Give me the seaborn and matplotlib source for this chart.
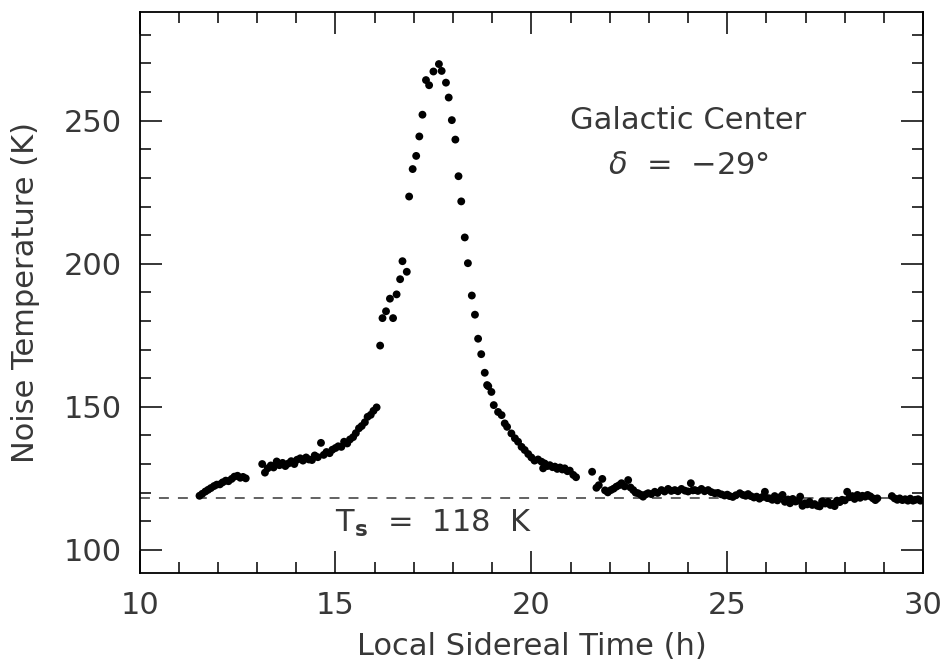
import numpy as np
import pandas as pd
import matplotlib
matplotlib.use("Agg")
import matplotlib.pyplot as plt
import seaborn as sns
from matplotlib.ticker import MultipleLocator

# drift scan through the galactic center
# slow rise before the source
rise_t = [11.53, 11.60, 11.68, 11.75, 11.82, 11.90, 11.97, 12.05, 12.12, 12.20,
          12.27, 12.35, 12.42, 12.50, 12.57, 12.64, 12.71,
          13.13, 13.20, 13.27, 13.35, 13.42, 13.50, 13.57, 13.65, 13.72, 13.80,
          13.87, 13.95, 14.02, 14.10, 14.17, 14.25, 14.32, 14.40, 14.47, 14.55,
          14.63, 14.70, 14.77, 14.85, 14.92, 15.00, 15.07, 15.15, 15.22, 15.30,
          15.37, 15.45, 15.52, 15.60, 15.67, 15.75, 15.82, 15.90, 15.97, 16.05]
rise_T = [118.9, 119.6, 120.4, 121.0, 121.6, 122.3, 122.8, 122.9, 123.6, 124.2,
          124.0, 124.8, 125.6, 125.9, 125.2, 125.5, 125.0,
          130.0, 127.0, 128.5, 129.5, 128.8, 130.9, 129.6, 130.4, 129.3, 130.2,
          131.0, 130.0, 131.5, 132.0, 131.2, 132.3, 131.6, 131.4, 133.0, 132.4,
          137.4, 133.2, 134.2, 133.8, 135.0, 135.6, 136.2, 136.0, 137.8, 137.2,
          138.6, 139.4, 140.8, 142.5, 143.3, 144.6, 146.5, 147.2, 148.6, 149.8]

# the source itself
peak_t = [16.14, 16.20, 16.29, 16.39, 16.47, 16.56, 16.65, 16.71, 16.82, 16.88,
          16.97, 17.06, 17.14, 17.22, 17.31, 17.39, 17.50, 17.64, 17.71, 17.82,
          17.89, 17.97, 18.06, 18.14, 18.21, 18.30, 18.38, 18.48, 18.56, 18.64,
          18.72, 18.81, 18.87]
peak_T = [171.4, 181.0, 183.4, 187.8, 181.0, 189.3, 194.6, 200.9, 197.2, 223.5,
          233.1, 237.7, 244.5, 252.1, 264.2, 262.4, 267.2, 269.8, 267.4, 263.3,
          258.1, 250.2, 243.4, 230.6, 221.8, 209.2, 200.2, 188.9, 182.2, 173.8,
          168.4, 161.9, 157.6]

# decay after transit
fall_t = [18.90, 18.98, 19.04, 19.15, 19.24, 19.32, 19.38, 19.49, 19.58, 19.66,
          19.75, 19.83, 19.92, 20.00, 20.08, 20.17, 20.26, 20.30, 20.34, 20.41,
          20.47, 20.54, 20.60, 20.66, 20.73, 20.79, 20.85, 20.92, 20.98, 21.07,
          21.14]
fall_T = [157.2, 155.2, 150.6, 148.2, 147.1, 144.2, 143.0, 140.7, 139.0, 137.8,
          136.0, 134.9, 133.5, 132.3, 131.2, 131.6, 130.8, 128.5, 130.2, 129.3,
          129.6, 128.9, 129.1, 128.3, 128.8, 128.1, 128.5, 127.5, 127.7, 126.2,
          125.4]

# cold sky afterwards
tail_t = [21.55, 21.66, 21.72, 21.81, 21.88, 21.95, 22.03, 22.10, 22.17, 22.24,
          22.30, 22.38, 22.47, 22.53, 22.60, 22.66, 22.72, 22.79, 22.85, 22.92,
          22.98, 23.06, 23.15, 23.22, 23.32, 23.40, 23.49, 23.57, 23.66, 23.74,
          23.83, 23.92, 24.00, 24.07, 24.12, 24.17, 24.25, 24.34, 24.42, 24.51,
          24.59, 24.68, 24.76, 24.85, 24.93, 25.00, 25.06, 25.14, 25.22, 25.32,
          25.40, 25.47, 25.53, 25.60, 25.68, 25.75, 25.82, 25.90, 25.96, 26.02,
          26.08, 26.15, 26.21, 26.28, 26.34, 26.41, 26.47, 26.55, 26.60, 26.67,
          26.74, 26.81, 26.86, 26.92, 26.98, 27.04, 27.10, 27.17, 27.23, 27.30,
          27.36, 27.42, 27.50, 27.57, 27.63, 27.70, 27.74, 27.80, 27.87, 27.93,
          28.00, 28.06, 28.12, 28.19, 28.25, 28.32, 28.39, 28.45, 28.52, 28.58,
          28.65, 28.72, 28.78, 28.83,
          29.20, 29.27, 29.34, 29.40, 29.47, 29.54, 29.61, 29.67, 29.74, 29.80,
          29.87, 29.93]
tail_T = [127.3, 121.7, 122.6, 124.8, 120.8, 120.1, 120.9, 121.4, 122.1, 122.6,
          123.3, 122.2, 124.4, 121.8, 120.9, 120.0, 119.8, 119.3, 118.6, 119.4,
          119.8, 119.5, 120.3, 119.9, 120.9, 120.4, 121.3, 120.6, 120.9, 120.5,
          121.3, 120.7, 120.4, 123.3, 120.8, 120.9, 120.6, 121.3, 120.5, 120.9,
          120.2, 119.8, 119.9, 119.4, 119.0, 119.3, 118.8, 118.5, 119.1, 119.8,
          119.2, 118.9, 119.5, 118.8, 118.3, 118.6, 117.9, 118.5, 120.3, 118.1,
          118.0, 117.5, 118.8, 117.3, 118.4, 119.2, 116.8, 117.6, 116.3, 117.8,
          116.9, 117.2, 118.6, 115.4, 116.3, 115.9, 116.8, 115.7, 116.0, 115.4,
          115.2, 117.0, 116.2, 116.8, 115.7, 116.1, 115.3, 117.2, 116.7, 117.5,
          117.3, 120.3, 118.4, 118.8, 117.8, 119.2, 118.2, 118.9, 118.6, 119.2,
          118.7, 118.0, 117.4, 118.0,
          118.8, 118.0, 117.5, 118.0, 117.4, 117.7, 117.2, 117.9, 117.2, 117.5,
          117.7, 117.2]

T_sys = 118

df = pd.DataFrame({
    "lst": rise_t + peak_t + fall_t + tail_t,
    "T": rise_T + peak_T + fall_T + tail_T,
})

sns.set_theme(style="ticks")
plt.rcParams["font.family"] = ["DejaVu Sans"]
txt = "#383838"
fs = 22

fig = plt.figure(figsize=(9.43, 6.66), dpi=100)
ax = fig.add_axes([0.148, 0.140, 0.831, 0.842])

sns.scatterplot(data=df, x="lst", y="T", ax=ax, color="black", s=32,
                edgecolor="none", legend=False)
ax.axhline(T_sys, color="#555555", lw=1.3, dashes=(5.5, 5), zorder=0)

ax.set_xlim(10, 30)
ax.set_ylim(92, 288)
ax.xaxis.set_major_locator(MultipleLocator(5))
ax.xaxis.set_minor_locator(MultipleLocator(1))
ax.yaxis.set_major_locator(MultipleLocator(50))
ax.yaxis.set_minor_locator(MultipleLocator(10))
ax.tick_params(which="both", direction="in", top=True, right=True,
               colors="black", labelcolor=txt, labelsize=fs, width=1.1)
ax.tick_params(which="major", length=16, pad=13)
ax.tick_params(which="minor", length=8)
for sp in ax.spines.values():
    sp.set_linewidth(1.3)
    sp.set_color("black")

ax.set_xlabel("Local Sidereal Time (h)", fontsize=fs, color=txt, labelpad=9)
ax.set_ylabel("Noise Temperature (K)", fontsize=fs, color=txt, labelpad=17)

ax.text(24.0, 250, "Galactic Center", fontsize=fs, color=txt,
        ha="center", va="center")
ax.text(24.0, 234.3, r"$\delta$  =  $-$29°", fontsize=fs, color=txt,
        ha="center", va="center")
ax.text(17.5, 109.4, r"T$_{\bf s}$  =  118  K", fontsize=fs, color=txt,
        ha="center", va="center")

fig.savefig("out.png", dpi=100)
